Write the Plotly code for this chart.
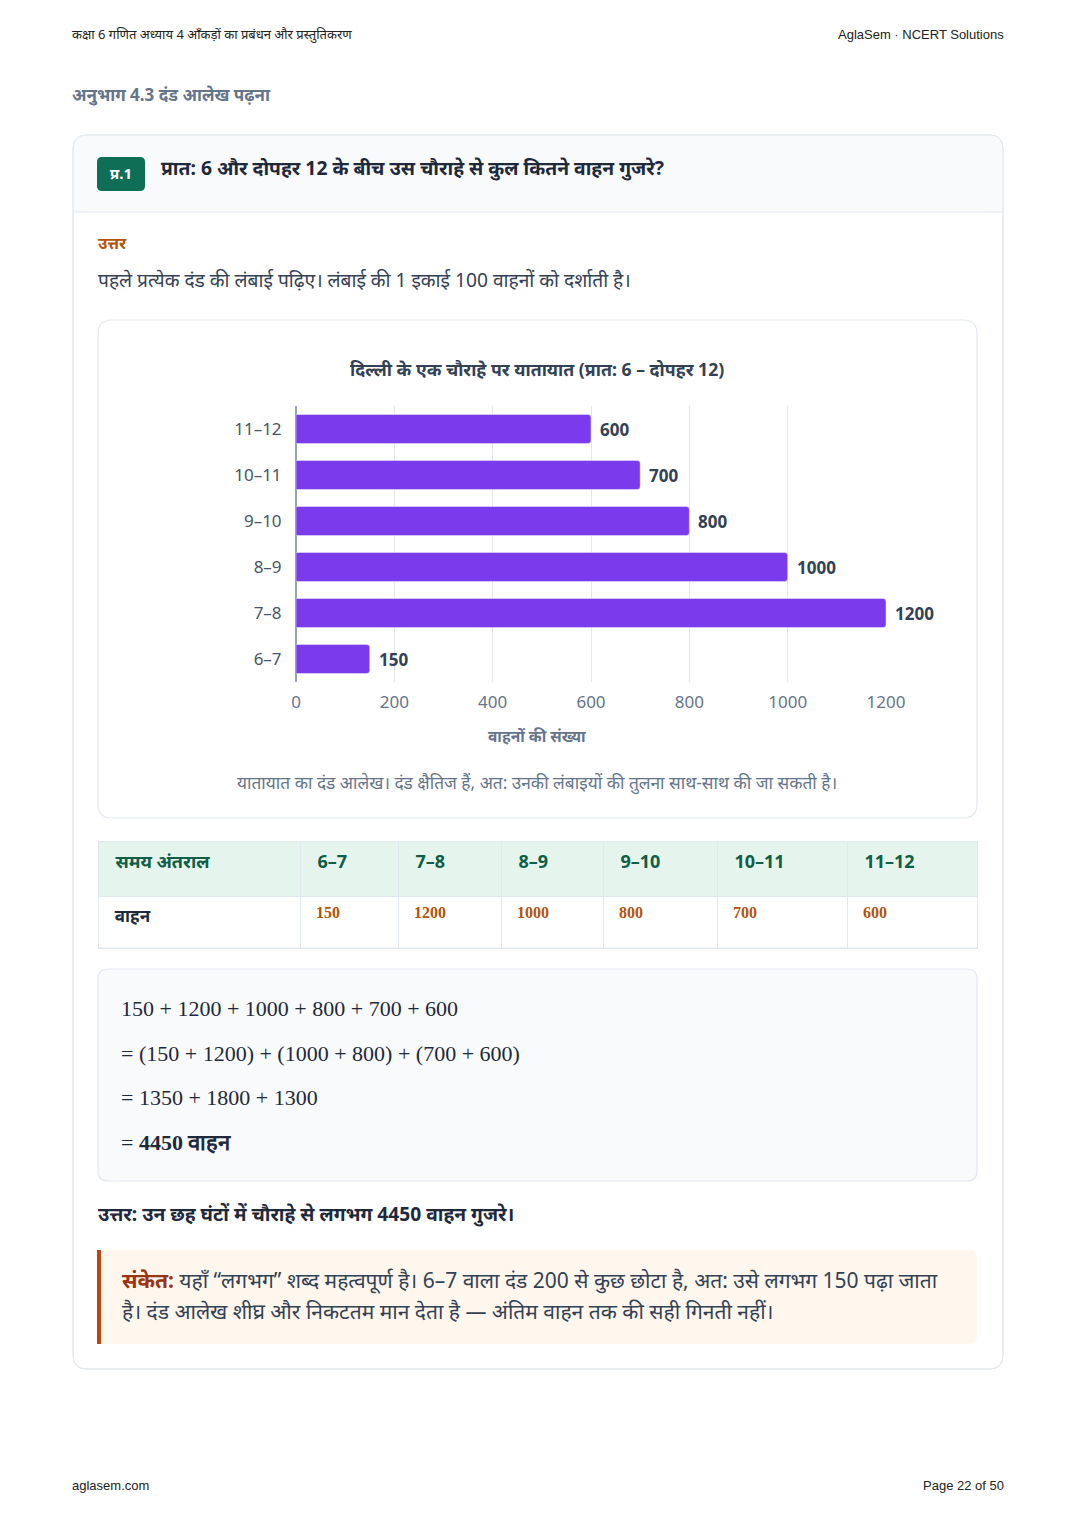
import plotly.graph_objects as go

# page size in px
W, H = 1076, 1522

# data
intervals = ["6–7", "7–8", "8–9", "9–10", "10–11", "11–12"]
vehicles = [150, 1200, 1000, 800, 700, 600]
x_ticks = [0, 200, 400, 600, 800, 1000, 1200]

DARK = "#1e293b"
GRAY = "#64748b"
BORDER = "#e2e8f0"
FONT = "Noto Sans, sans-serif"
SERIF = "Liberation Serif, serif"
PAD = "\u00a0\u00a0"  # push table text in from the cell edge


def px(x):
    return x / W


def py(y):
    return 1 - y / H


def rrect(x0, y0, x1, y1, r, top_only=False):
    rb = 0 if top_only else r
    return (
        f"M{px(x0 + r)},{py(y0)} L{px(x1 - r)},{py(y0)} "
        f"Q{px(x1)},{py(y0)} {px(x1)},{py(y0 + r)} "
        f"L{px(x1)},{py(y1 - rb)} Q{px(x1)},{py(y1)} {px(x1 - rb)},{py(y1)} "
        f"L{px(x0 + rb)},{py(y1)} Q{px(x0)},{py(y1)} {px(x0)},{py(y1 - rb)} "
        f"L{px(x0)},{py(y0 + r)} Q{px(x0)},{py(y0)} {px(x0 + r)},{py(y0)} Z"
    )


def box(x0, y0, x1, y1, r, fill, line=None, width=1, top_only=False):
    return dict(
        type="path", xref="paper", yref="paper", layer="below",
        path=rrect(x0, y0, x1, y1, r, top_only),
        fillcolor=fill, line=dict(color=line or "rgba(0,0,0,0)", width=width if line else 0),
    )


def text(x, y, s, size, color=DARK, anchor="left", family=FONT):
    # annotations carry ~2px of padding, take it back out
    if anchor == "left":
        x -= 2
    elif anchor == "right":
        x += 2
    return dict(
        x=px(x), y=py(y), xref="paper", yref="paper", text=s, showarrow=False,
        xanchor=anchor, yanchor="middle", align=anchor,
        font=dict(size=size, color=color, family=family),
    )


fig = go.Figure()

# bar chart
fig.add_trace(go.Bar(
    x=vehicles, y=intervals, orientation="h",
    marker=dict(color="#7c3aed", cornerradius=3),
    width=0.63, hoverinfo="skip",
))

# table
header_vals = [PAD + "<b>समय अंतराल</b>"] + [PAD + f"<b>{c}</b>" for c in intervals]
cell_vals = [[PAD + "<b>वाहन</b>"]] + [[PAD + f"<b>{v}</b>"] for v in vehicles]
fig.add_trace(go.Table(
    domain=dict(x=[px(98), px(977)], y=[py(949), py(841)]),
    columnwidth=[202, 98, 103, 102, 114, 130, 130],
    header=dict(
        values=header_vals, fill_color="#e6f4ee", line_color=BORDER, height=55,
        align="left", font=dict(size=18, color="#0f5e45", family=FONT),
    ),
    cells=dict(
        values=cell_vals, fill_color="white", line_color=BORDER, height=52,
        align="left",
        font=dict(
            size=[17] + [16] * 6,
            color=[DARK] + ["#b45309"] * 6,
            family=[FONT] + [SERIF] * 6,
        ),
    ),
))

shapes = [
    # main card
    box(73, 135, 1003, 1369, 14, "white", BORDER),
    box(73.5, 135.5, 1002.5, 212, 14, "#f8fafc", top_only=True),
    dict(type="line", xref="paper", yref="paper", layer="below",
         x0=px(73), x1=px(1003), y0=py(212), y1=py(212), line=dict(color=BORDER, width=1)),
    box(73, 135, 1003, 1369, 14, "rgba(0,0,0,0)", BORDER),
    # badge
    box(97, 157, 145, 191, 5, "#0f6e56"),
    # chart card
    box(98, 320, 977, 818, 14, "white", BORDER, 1.2),
    # table bottom edge
    dict(type="line", xref="paper", yref="paper", layer="above",
         x0=px(98), x1=px(977), y0=py(948), y1=py(948), line=dict(color=BORDER, width=1.2)),
    # sum box
    box(98, 969, 977, 1181, 10, "#f8fafc", BORDER, 1.2),
    # hint box
    box(98, 1250, 977, 1344, 8, "#fff7ed"),
    dict(type="rect", xref="paper", yref="paper", layer="below",
         x0=px(97), x1=px(101), y0=py(1250), y1=py(1344),
         fillcolor="#c2410c", line_width=0),
]

# sum lines built from the data
pairs = [(vehicles[i], vehicles[i + 1]) for i in range(0, len(vehicles), 2)]
line1 = " + ".join(str(v) for v in vehicles)
line2 = "= " + " + ".join(f"({a} + {b})" for a, b in pairs)
line3 = "= " + " + ".join(str(a + b) for a, b in pairs)
line4 = f"= <b>{sum(vehicles)} वाहन</b>"

annotations = [
    text(72, 34, "कक्षा 6 गणित अध्याय 4 आँकड़ों का प्रबंधन और प्रस्तुतिकरण", 13, "#222"),
    text(1004, 34, "AglaSem · NCERT Solutions", 13, "#222", "right", "Liberation Sans, Arial"),
    text(72, 94, "<b>अनुभाग 4.3 दंड आलेख पढ़ना</b>", 17, GRAY),
    text(121, 173, "<b>प्र.1</b>", 15, "white", "center"),
    text(161, 167, "<b>प्रात: 6 और दोपहर 12 के बीच उस चौराहे से कुल कितने वाहन गुजरे?</b>", 19.3, DARK),
    text(98, 243, "<b>उत्तर</b>", 16, "#b45309"),
    text(98, 280, "पहले प्रत्येक दंड की लंबाई पढ़िए। लंबाई की 1 इकाई 100 वाहनों को दर्शाती है।", 19.2, "#334155"),
    text(537, 369, "<b>दिल्ली के एक चौराहे पर यातायात (प्रात: 6 – दोपहर 12)</b>", 17.7, "#334155", "center"),
    text(537, 736, "<b>वाहनों की संख्या</b>", 15.5, GRAY, "center"),
    text(537, 783, "यातायात का दंड आलेख। दंड क्षैतिज हैं, अत: उनकी लंबाइयों की तुलना साथ-साथ की जा सकती है।",
         17.3, GRAY, "center"),
    text(121, 1008, line1, 22, DARK, family=SERIF),
    text(121, 1053, line2, 22, DARK, family=SERIF),
    text(121, 1097, line3, 22, DARK, family=SERIF),
    text(121, 1142, line4, 22, DARK, family=SERIF),
    text(98, 1213, "<b>उत्तर: उन छह घंटों में चौराहे से लगभग 4450 वाहन गुजरे।</b>", 19.2, DARK),
    text(122, 1280, '<b><span style="color:#9a3412">संकेत:</span></b> यहाँ “लगभग” शब्द महत्वपूर्ण है। '
         '6–7 वाला दंड 200 से कुछ छोटा है, अत: उसे लगभग 150 पढ़ा जाता', 21, "#334155"),
    text(122, 1311, "है। दंड आलेख शीघ्र और निकटतम मान देता है — अंतिम वाहन तक की सही गिनती नहीं।", 21, "#334155"),
    text(72, 1485, "aglasem.com", 13, "#222", family="Liberation Sans, Arial"),
    text(1004, 1485, "Page 22 of 50", 13, "#222", "right", "Liberation Sans, Arial"),
]

# value labels next to each bar, placed on the bar axes
for v, c in zip(vehicles, intervals):
    annotations.append(dict(
        x=v, y=c, xref="x", yref="y", text=f"<b>{v}</b>", showarrow=False,
        xanchor="left", yanchor="middle", xshift=7,
        font=dict(size=17, color="#334155", family=FONT),
    ))

fig.update_layout(
    width=W, height=H,
    margin=dict(l=0, r=0, t=0, b=0, autoexpand=False),
    paper_bgcolor="white", plot_bgcolor="rgba(0,0,0,0)",
    showlegend=False,
    font=dict(family=FONT, color=DARK),
    shapes=shapes,
    annotations=annotations,
    xaxis=dict(
        domain=[px(296), px(886)], range=[0, 1200], tickvals=x_ticks, automargin=False,
        showgrid=True, gridcolor="#e5e7eb", gridwidth=1,
        zeroline=True, zerolinecolor="#94a3b8", zerolinewidth=1.5,
        tickfont=dict(size=17, color=GRAY), ticks="outside", ticklen=5,
        tickcolor="rgba(0,0,0,0)", fixedrange=True,
    ),
    yaxis=dict(
        domain=[py(682), py(406)], categoryorder="array", categoryarray=intervals,
        automargin=False, showgrid=False, tickfont=dict(size=17, color="#475569"),
        ticks="outside", ticklen=10, tickcolor="rgba(0,0,0,0)", fixedrange=True,
    ),
)

fig.write_html(
    "out.html",
    config={"responsive": False, "displayModeBar": False},
    post_script="document.body.style.margin='0';document.body.style.overflow='hidden';",
)
